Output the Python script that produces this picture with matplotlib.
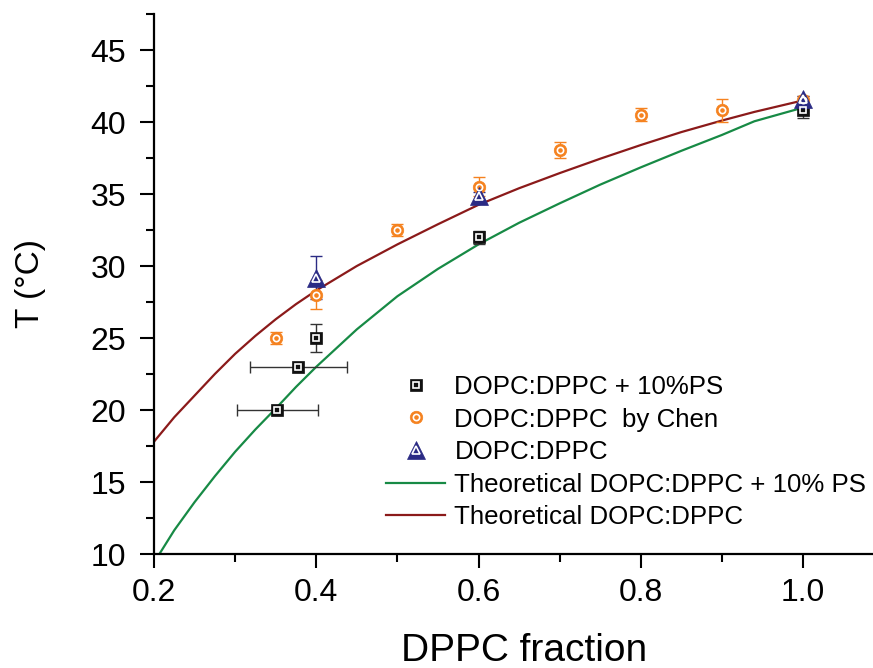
"""DPPC fraction vs transition temperature, DOPC:DPPC mixtures with and without 10% PS"""
import numpy as np
import matplotlib
matplotlib.use('Agg')
from matplotlib import pyplot as plt
from matplotlib.lines import Line2D
from matplotlib.legend_handler import HandlerTuple
from matplotlib.ticker import MultipleLocator, FormatStrFormatter

# DOPC:DPPC + 10%PS (measured)
ps_x = np.array([0.352, 0.378, 0.40, 0.60, 1.00])
ps_t = np.array([20.0, 23.0, 25.0, 32.0, 40.8])
ps_xerr = np.array([0.050, 0.060, 0.0, 0.0, 0.0])
ps_terr = np.array([0.0, 0.0, 1.0, 0.45, 0.55])

# DOPC:DPPC by Chen
chen_x = np.array([0.35, 0.40, 0.50, 0.60, 0.70, 0.80, 0.90, 1.00])
chen_t = np.array([25.0, 28.0, 32.5, 35.5, 38.05, 40.5, 40.8, 41.5])
chen_terr = np.array([0.45, 1.0, 0.45, 0.65, 0.55, 0.45, 0.8, 0.3])

# DOPC:DPPC (measured)
pc_x = np.array([0.40, 0.60, 1.00])
pc_t = np.array([29.2, 34.85, 41.6])
pc_terr = np.array([1.5, 0.3, 0.2])

# theoretical curves
theo_x = [0.200, 0.225, 0.250, 0.275, 0.300, 0.325, 0.350, 0.375, 0.400,
          0.45, 0.50, 0.55, 0.60, 0.65, 0.70, 0.75, 0.80, 0.85, 0.90, 0.94, 1.00]
theo_ps_t = [9.4, 11.65, 13.6, 15.4, 17.1, 18.65, 20.1, 21.6, 23.0,
             25.6, 27.9, 29.8, 31.5, 33.0, 34.35, 35.65, 36.85, 38.0, 39.1, 40.05, 41.0]
theo_pc_t = [17.8, 19.5, 21.0, 22.5, 23.9, 25.15, 26.3, 27.35, 28.3,
             30.0, 31.5, 32.9, 34.25, 35.4, 36.45, 37.45, 38.4, 39.3, 40.1, 40.7, 41.5]

BLACK = '#111111'
ORANGE = '#f5821f'
NAVY = '#2b2b84'
RED = '#8b1a1a'
GREEN = '#178a45'

plt.rcParams['font.family'] = ['Liberation Sans', 'DejaVu Sans']

fig = plt.figure(figsize=(8.73, 6.68), dpi=100)
ax = fig.add_axes([154 / 873., 1 - 554 / 668., (872 - 154) / 873., (554 - 14) / 668.])

# theory
ax.plot(theo_x, theo_ps_t, '-', color=GREEN, lw=1.6, zorder=2)
ax.plot(theo_x, theo_pc_t, '-', color=RED, lw=1.6, zorder=2)

# error bars
ebkw = dict(fmt='none', capsize=4, elinewidth=1.0, capthick=1.0, zorder=3)
hx = ps_xerr > 0
vy = ps_terr > 0
ax.errorbar(ps_x[hx], ps_t[hx], xerr=ps_xerr[hx], ecolor='#333333', **ebkw)
ax.errorbar(ps_x[vy], ps_t[vy], yerr=ps_terr[vy], ecolor='#333333', **ebkw)
ax.errorbar(chen_x, chen_t, yerr=chen_terr, ecolor=ORANGE, **ebkw)
ax.errorbar(pc_x, pc_t, yerr=pc_terr, ecolor=NAVY, **ebkw)


def marker(x, y, shape, color, size, inner):
    """Origin-like marker: filled shape with a white ring inside"""
    outer = Line2D(x, y, ls='none', marker=shape, ms=size, mfc=color, mec=color, mew=0.5, zorder=4)
    ring = Line2D(x, y, ls='none', marker=shape, ms=inner, mfc='none', mec='white', mew=1.2, zorder=5)
    ax.add_line(outer)
    ax.add_line(ring)
    return outer, ring


sq = marker(ps_x, ps_t, 's', BLACK, 8, 4)
ci = marker(chen_x, chen_t, 'o', ORANGE, 9, 4.5)
tr = marker(pc_x, pc_t, '^', NAVY, 12.5, 5.5)

ax.set_xlim(0.2, 1.085)
ax.set_ylim(10, 47.5)
ax.xaxis.set_major_locator(MultipleLocator(0.2))
ax.xaxis.set_minor_locator(MultipleLocator(0.1))
ax.xaxis.set_major_formatter(FormatStrFormatter('%.1f'))
ax.yaxis.set_major_locator(MultipleLocator(5))
ax.yaxis.set_minor_locator(MultipleLocator(2.5))
ax.tick_params(which='both', direction='out', width=1.5, labelsize=23, colors='black')
ax.tick_params(which='major', length=10)
ax.tick_params(which='minor', length=6)
ax.tick_params(axis='y', pad=10)
ax.tick_params(axis='x', pad=7)
for side in ('top', 'right'):
    ax.spines[side].set_visible(False)
for side in ('left', 'bottom'):
    ax.spines[side].set_linewidth(1.6)

ax.set_xlabel('DPPC fraction', fontsize=28, labelpad=18, x=0.515)
ax.set_ylabel('T (\u00b0C)', fontsize=24, labelpad=32)

handles = [
    sq,
    ci,
    tr,
    Line2D([], [], color=GREEN, lw=1.6),
    Line2D([], [], color=RED, lw=1.6),
]
labels = [
    'DOPC:DPPC + 10%PS',
    'DOPC:DPPC  by Chen',
    'DOPC:DPPC',
    'Theoretical DOPC:DPPC + 10% PS',
    'Theoretical DOPC:DPPC',
]
fig.legend(handles, labels, loc='upper left', bbox_to_anchor=(386 / 873., 1 - 375 / 668.),
           frameon=False, fontsize=18.6, handlelength=2.3, handletextpad=0.35,
           labelspacing=0.33, borderpad=0, borderaxespad=0, numpoints=1,
           handler_map={tuple: HandlerTuple(ndivide=1)})

fig.savefig('out.png', dpi=100)
